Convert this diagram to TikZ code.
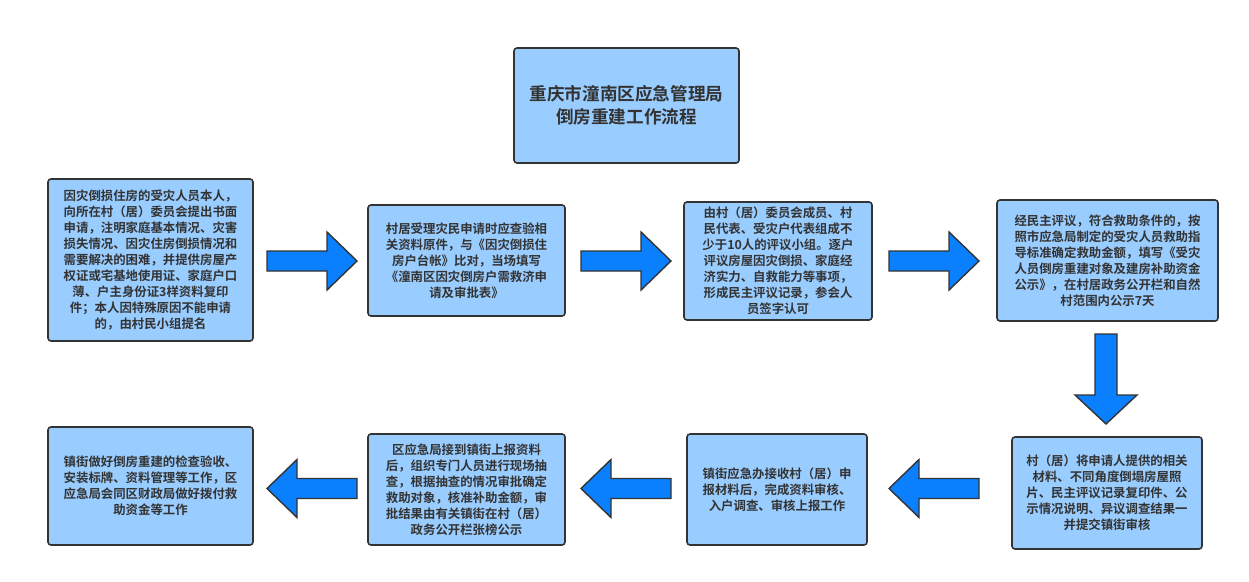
\documentclass[tikz,border=0pt]{standalone}
\usepackage{fontspec}
\setmainfont{Noto Sans CJK SC}[BoldFont={Noto Sans CJK SC Bold}]
\definecolor{boxfill}{HTML}{99CCFF}
\definecolor{boxline}{HTML}{333333}
\definecolor{arrfill}{HTML}{0A80FF}
\definecolor{txt}{HTML}{333333}
\tikzset{
  box/.style={draw=boxline, line width=1.6pt, fill=boxfill, rounded corners=3pt,
    inner sep=0pt, align=center, text=txt,
    font=\bfseries\fontsize{12.4}{16}\selectfont},
  titlebox/.style={box, font=\bfseries\fontsize{17.6}{23}\selectfont},
  blockarrow/.style={draw=boxline, line width=1.4pt, fill=arrfill, line join=miter},
  rarr/.pic={\path[blockarrow] (0,-10) -- (60,-10) -- (60,-29) -- (90,0) -- (60,29) -- (60,10) -- (0,10) -- cycle;},
  larr/.pic={\path[blockarrow] (0,-10) -- (-60,-10) -- (-60,-29) -- (-90,0) -- (-60,29) -- (-60,10) -- (0,10) -- cycle;},
  darr/.pic={\path[blockarrow] (-11,0) -- (-11,61) -- (-31,61) -- (0,90) -- (31,61) -- (11,61) -- (11,0) -- cycle;}
}
\begin{document}
\begin{tikzpicture}[x=1pt,y=-1pt]
\useasboundingbox (0,0) rectangle (1249,581);
\fill[white] (0,0) rectangle (1249,581);

\node[titlebox, minimum width=225pt, minimum height=115pt] (t) at (626.5,105.5)
  {重庆市潼南区应急管理局\\倒房重建工作流程};

\node[box, minimum width=205pt, minimum height=162pt] (b1) at (150.5,260)
  {因灾倒损住房的受灾人员本人，\\向所在村（居）委员会提出书面\\申请，注明家庭基本情况、灾害\\损失情况、因灾住房倒损情况和\\需要解决的困难，并提供房屋产\\权证或宅基地使用证、家庭户口\\薄、户主身份证3样资料复印\\件；本人因特殊原因不能申请\\的，由村民小组提名};

\node[box, minimum width=197pt, minimum height=111pt] (b2) at (466.5,260.5)
  {村居受理灾民申请时应查验相\\关资料原件，与《因灾倒损住\\房户台帐》比对，当场填写\\《潼南区因灾倒房户需救济申\\请及审批表》};

\node[box, minimum width=188pt, minimum height=118pt] (b3) at (778,261)
  {由村（居）委员会成员、村\\民代表、受灾户代表组成不\\少于10人的评议小组。逐户\\评议房屋因灾倒损、家庭经\\济实力、自救能力等事项，\\形成民主评议记录，参会人\\员签字认可};

\node[box, minimum width=221pt, minimum height=121pt] (b4) at (1107.5,260.5)
  {经民主评议，符合救助条件的，按\\照市应急局制定的受灾人员救助指\\导标准确定救助金额，填写《受灾\\人员倒房重建对象及建房补助资金\\公示》，在村居政务公开栏和自然\\村范围内公示7天};

\node[box, minimum width=190pt, minimum height=112pt] (b5) at (1107,493)
  {村（居）将申请人提供的相关\\材料、不同角度倒塌房屋照\\片、民主评议记录复印件、公\\示情况说明、异议调查结果一\\并提交镇街审核};

\node[box, minimum width=180pt, minimum height=111pt] (b6) at (777,489.5)
  {镇街应急办接收村（居）申\\报材料后，完成资料审核、\\入户调查、审核上报工作};

\node[box, minimum width=197pt, minimum height=111pt] (b7) at (466.5,489.5)
  {区应急局接到镇街上报资料\\后，组织专门人员进行现场抽\\查，根据抽查的情况审批确定\\救助对象，核准补助金额，审\\批结果由有关镇街在村（居）\\政务公开栏张榜公示};

\node[box, minimum width=205pt, minimum height=118pt] (b8) at (150.5,486)
  {镇街做好倒房重建的检查验收、\\安装标牌、资料管理等工作，区\\应急局会同区财政局做好拨付救\\助资金等工作};

\pic at (267,261) {rarr};
\pic at (581,261) {rarr};
\pic at (889,261) {rarr};
\pic at (1106,334) {darr};
\pic at (979,488.5) {larr};
\pic at (671,488.5) {larr};
\pic at (357,488.5) {larr};
\end{tikzpicture}
\end{document}
